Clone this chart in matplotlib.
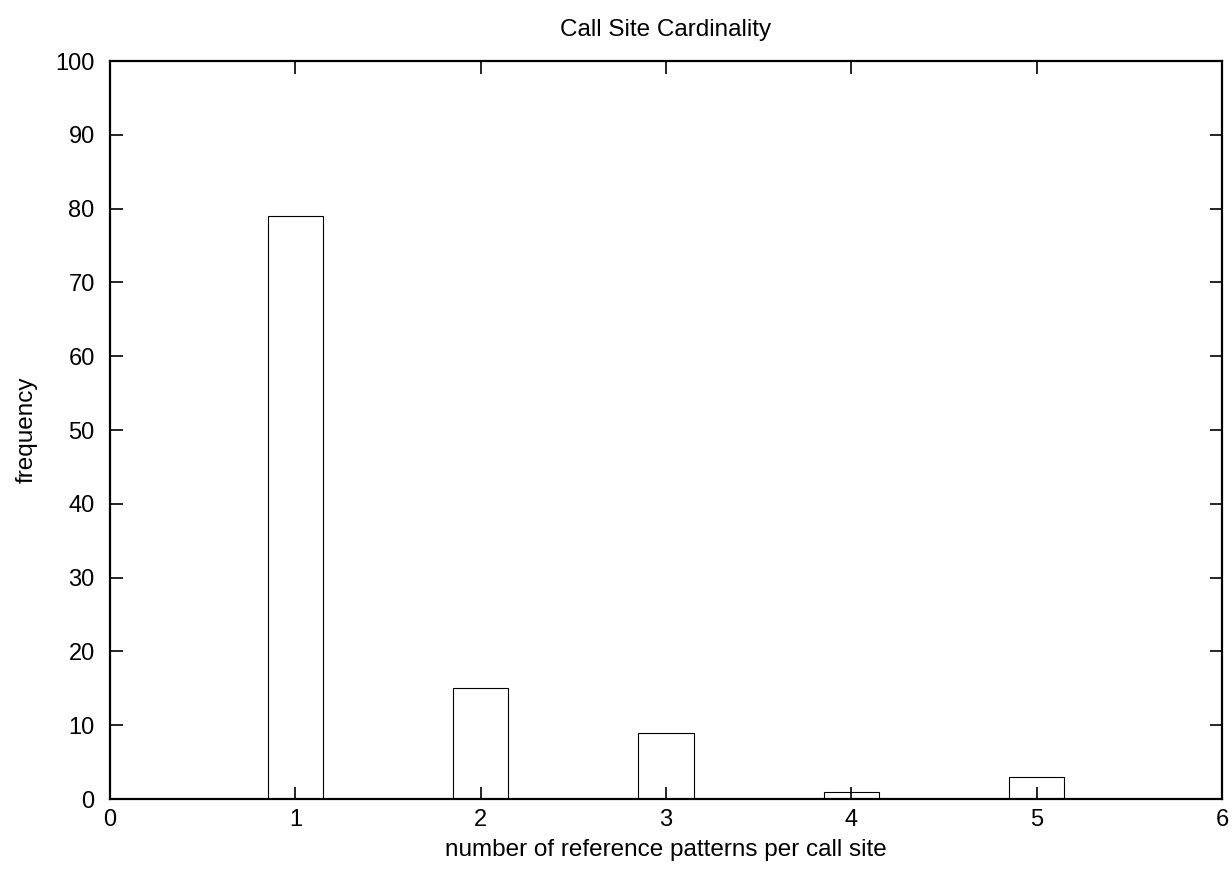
import matplotlib
matplotlib.use('Agg')
import matplotlib.pyplot as plt

plt.rcParams['font.family'] = ['Liberation Sans', 'DejaVu Sans']
plt.rcParams['font.size'] = 17.5

# number of reference patterns per call site vs. frequency
patterns = [1, 2, 3, 4, 5]
frequency = [79, 15, 9, 1, 3]

fig = plt.figure(figsize=(12.32, 8.74), dpi=100)
ax = fig.add_axes([0.0893, 0.0858, 0.9026, 0.8444])

ax.bar(patterns, frequency, width=0.3, facecolor='white', edgecolor='black', linewidth=0.8, zorder=1)

ax.set_xlim(0, 6)
ax.set_ylim(0, 100)
ax.set_xticks(range(0, 7))
ax.set_yticks(range(0, 101, 10))
ax.tick_params(direction='in', length=9, width=1.2, top=True, right=True, labelsize=17)
ax.tick_params(axis='y', pad=11)
ax.tick_params(axis='x', pad=7)
for s in ax.spines.values():
    s.set_linewidth(1.6)
    s.set_zorder(3)

ax.set_title('Call Site Cardinality', fontsize=17.5, pad=18)
ax.set_xlabel('number of reference patterns per call site', labelpad=6)
ax.set_ylabel('frequency', labelpad=13)

fig.savefig('out.png')
